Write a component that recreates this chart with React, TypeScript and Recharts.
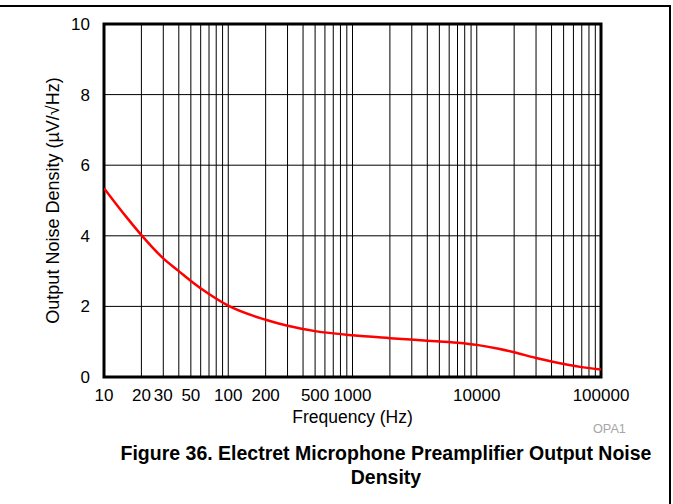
import React from 'react';
import { LineChart, Line, XAxis, YAxis, ReferenceLine, ReferenceArea } from 'recharts';

const frequency = [10, 15, 20, 30, 40, 50, 70, 100, 200, 300, 500, 1000, 2000, 4000, 7000, 10000, 15000, 20000, 30000, 40000, 70000, 100000];
const noiseDensity = [5.35, 4.55, 4.02, 3.36, 3.0, 2.72, 2.35, 2.02, 1.62, 1.45, 1.3, 1.18, 1.1, 1.03, 0.97, 0.91, 0.8, 0.7, 0.54, 0.44, 0.28, 0.21];

const xTicks = [10, 20, 30, 50, 100, 200, 500, 1000, 10000, 100000];
const yTicks = [0, 2, 4, 6, 8, 10];
const decades = [10, 100, 1000, 10000];
const multipliers = [2, 3, 4, 5, 6, 7, 8, 9, 10];

const data = frequency.map((f, i) => ({ f, v: noiseDensity[i] }));
const gridX = decades.flatMap((d) => multipliers.map((m) => d * m)).filter((v) => v < 100000);

const font = '"Liberation Sans", Arial, sans-serif';

const App: React.FC = () => {
  return (
    <div style={{ position: 'absolute', left: 0, top: 0, width: 673, height: 504, fontFamily: font, overflow: 'hidden' }}>
      <div
        style={{
          position: 'absolute',
          left: 0,
          top: 5,
          width: 669,
          height: 520,
          borderTop: '2px solid #000',
          borderRight: '2px solid #000',
        }}
      />
      <LineChart
        width={673}
        height={504}
        data={data}
        margin={{ top: 24, right: 72, left: 74, bottom: 97 }}
        style={{ position: 'absolute', left: 0, top: 0 }}
      >
        {gridX.map((x) => (
          <ReferenceLine key={'gx' + x} x={x} stroke="#000" strokeWidth={1} />
        ))}
        {[2, 4, 6, 8].map((y) => (
          <ReferenceLine key={'gy' + y} y={y} stroke="#000" strokeWidth={1} />
        ))}
        <XAxis
          dataKey="f"
          type="number"
          scale="log"
          domain={[10, 100000]}
          ticks={xTicks}
          interval={0}
          height={30}
          axisLine={false}
          tickLine={false}
          tick={{ fill: '#000', fontSize: 17, fontFamily: font }}
          tickMargin={6}
          allowDataOverflow
          label={{ value: 'Frequency (Hz)', position: 'insideBottom', offset: -16, fill: '#000', fontSize: 17.5, fontFamily: font }}
        />
        <YAxis
          type="number"
          domain={[0, 10]}
          ticks={yTicks}
          interval={0}
          width={30}
          axisLine={false}
          tickLine={false}
          tick={{ fill: '#000', fontSize: 17, fontFamily: font }}
          tickMargin={8}
          label={{
            value: 'Output Noise Density (µV/√Hz)',
            angle: -90,
            position: 'insideLeft',
            offset: -21,
            style: { textAnchor: 'middle', fill: '#000', fontSize: 18, fontFamily: font },
          }}
        />
        <Line
          type="monotone"
          dataKey="v"
          stroke="#ff0000"
          strokeWidth={2.5}
          dot={false}
          isAnimationActive={false}
        />
        <ReferenceArea x1={10} x2={100000} y1={0} y2={10} fill="none" stroke="#000" strokeWidth={3} />
      </LineChart>
      <div style={{ position: 'absolute', left: 593, top: 422, fontSize: 12.7, color: '#a6a6a6' }}>OPA1</div>
      <div
        style={{
          position: 'absolute',
          left: 86,
          top: 441,
          width: 600,
          textAlign: 'center',
          fontWeight: 'bold',
          fontSize: 19.5,
          lineHeight: '24px',
          color: '#000',
        }}
      >
        Figure 36. Electret Microphone Preamplifier Output Noise
        <br />
        Density
      </div>
    </div>
  );
};

export default App;
